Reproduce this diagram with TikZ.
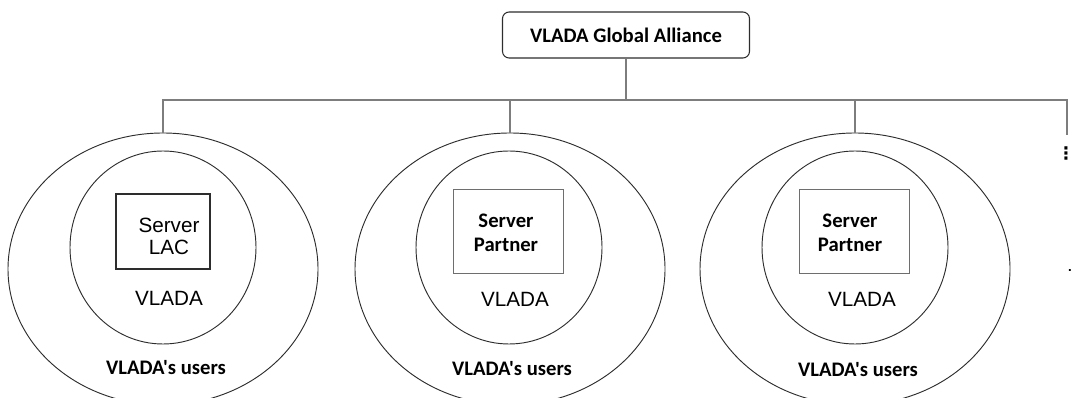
\documentclass[tikz,border=0pt]{standalone}
\usepackage{fontspec}
\setmainfont{Liberation Sans}
\newfontfamily\calibri{Carlito}
\newfontfamily\dejavu{DejaVu Sans}
\usetikzlibrary{shapes.geometric,positioning}
\definecolor{linegray}{RGB}{125,125,125}
\definecolor{ringgray}{RGB}{45,45,45}
\definecolor{boxgray}{RGB}{110,110,110}

\begin{document}
\begin{tikzpicture}[x=0.75pt,y=-0.75pt]
\tikzset{
  conn/.style={draw=linegray, line width=0.9pt},
  users/.style={ellipse, draw=ringgray, line width=0.7pt, minimum width=232.5pt, minimum height=204pt, inner sep=0pt},
  vlada/.style={ellipse, draw=ringgray, line width=0.7pt, minimum width=139.5pt, minimum height=144.75pt, inner sep=0pt},
  lacbox/.style={draw=ringgray, line width=1pt, minimum width=70.5pt, minimum height=56.25pt},
  partnerbox/.style={draw=boxgray, line width=0.7pt, minimum width=82.5pt, minimum height=63pt},
  armtext/.style={font=\fontsize{15.5}{16.5}\selectfont, align=center, inner sep=0pt},
  calbold/.style={font=\calibri\bfseries\fontsize{15.5}{17.6}\selectfont, align=center, inner sep=0pt}
}
\useasboundingbox (0,0) rectangle (1073,398);

% Alliance box
\node[draw=ringgray, line width=0.8pt, rounded corners=5pt, minimum width=185.25pt, minimum height=34.5pt, calbold] (gva) at (626,35) {VLADA Global Alliance};

% Node 1: LAC
\node[users] (u1) at (163,269) {};
\node[vlada] (v1) at (163,247.5) {};
\node[lacbox] (s1) at (163,231.5) {};
\node[armtext] (s1t) at (169,236) {Server\\LAC};
\node[armtext] (v1t) at (169,298) {VLADA};
\node[calbold] (u1t) at (166,368) {VLADA's users};

% Node 2: partner
\node[users] (u2) at (510,269) {};
\node[vlada] (v2) at (509,247.5) {};
\node[partnerbox] (s2) at (508,231) {};
\node[calbold] (s2t) at (506,233) {Server\\Partner};
\node[armtext] (v2t) at (515,299) {VLADA};
\node[calbold] (u2t) at (512,369) {VLADA's users};

% Node 3: partner
\node[users] (u3) at (855,269) {};
\node[vlada] (v3) at (855,247.5) {};
\node[partnerbox] (s3) at (854,231) {};
\node[calbold] (s3t) at (850,233) {Server\\Partner};
\node[armtext] (v3t) at (862,299) {VLADA};
\node[calbold] (u3t) at (858,370) {VLADA's users};

% More nodes
\coordinate (bus) at (0,100);
\coordinate (rend) at (1067,135);
\node[inner sep=0pt, font=\dejavu\bfseries\fontsize{13}{13}\selectfont] (more) at (1066,153) {⋮};
\node[inner sep=0pt, font=\bfseries] (dot) at (1070,271) {.};

% Tree lines
\draw[conn] (gva.south) -- (gva.south |- bus);
\draw[conn] (u1.north) -- (u1.north |- bus) -- (bus -| rend) -- (rend);
\draw[conn] (u2.north) -- (u2.north |- bus);
\draw[conn] (u3.north) -- (u3.north |- bus);
\end{tikzpicture}
\end{document}
